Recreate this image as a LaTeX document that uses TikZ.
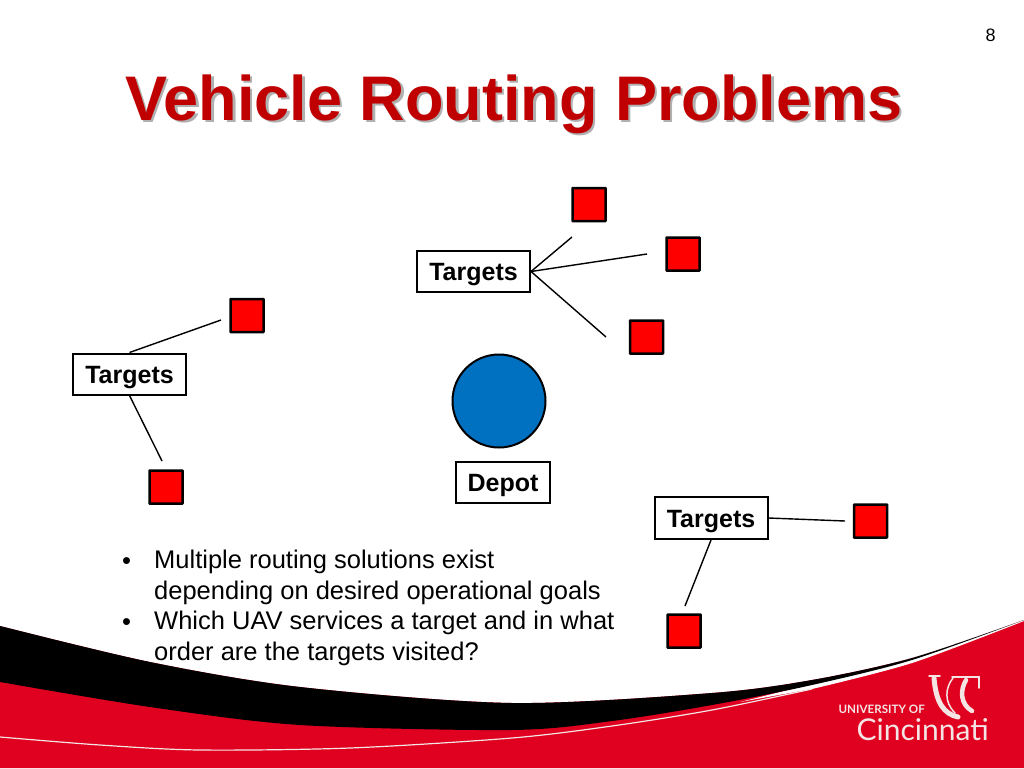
\documentclass[tikz,border=0pt]{standalone}
\usepackage{fontspec}
\setmainfont{Liberation Sans}
\newfontfamily\logofont{Lato}
\definecolor{titlered}{HTML}{C00000}
\definecolor{titleshade}{HTML}{B0B0B0}
\definecolor{bandred}{HTML}{E0001F}
\definecolor{depotblue}{HTML}{0070C0}
\definecolor{logowhite}{HTML}{F4E4E4}
\newcommand{\shadedtitle}[1]{\rlap{\hspace{2.5pt}\raisebox{-2.5pt}{\textcolor{titleshade}{#1}}}\textcolor{titlered}{#1}}
\tikzset{
    target/.style={draw=black, line width=2.5pt, fill=red, minimum size=33pt, inner sep=0pt, rounded corners=0.5pt},
    label box/.style={draw=black, line width=2pt, fill=white, inner sep=0pt, text height=18pt, text depth=0pt, font=\fontsize{25}{25}\selectfont\bfseries},
    link/.style={line width=1.4pt},
    bullet text/.style={anchor=north west, align=left, inner sep=0pt, font=\fontsize{25.5}{30.5}\selectfont},
    crest/.style={draw=logowhite, line cap=round},
}

\begin{document}
\begin{tikzpicture}[x=1pt, y=-1pt]
    \useasboundingbox (0, 0) rectangle (1024, 768);
    \fill[white] (0, 0) rectangle (1024, 768);

    % bottom band
    \fill[bandred] plot[smooth] coordinates {(0, 626) (150, 662) (300, 687) (512, 703) (712, 693) (812, 680) (912, 658) (1024, 620)} -- (1024, 768) -- (0, 768) -- cycle;
    \fill[white] (740, 702) -- plot[smooth] coordinates {(812, 684) (912, 658) (1024, 620)} -- plot[smooth] coordinates {(1024, 621) (912, 663) (812, 689)} -- cycle;
    \fill[black] plot[smooth] coordinates {(0, 626) (150, 662) (300, 687) (512, 703) (712, 693) (812, 680) (912, 658) (1024, 620)} -- plot[smooth] coordinates {(1024, 620) (912, 660) (812, 685) (712, 705) (612, 721) (512, 730) (300, 725) (150, 707) (0, 682)} -- cycle;
    \draw[logowhite, line width=1.2pt] plot[smooth] coordinates {(0, 737) (100, 745) (200, 750) (350, 748) (512, 738) (612, 726) (712, 710) (812, 689)};

    % logo
    \node[logowhite, inner sep=0pt, anchor=base east] (uni) at (925, 713) {\logofont\bfseries\fontsize{11.6}{11.6}\selectfont UNIVERSITY OF};
    \node[logowhite, inner sep=0pt, anchor=base east] (cin) at (989, 740) {\logofont\fontsize{30}{30}\selectfont Cincinnati};
    \draw[crest, line width=5pt] (934, 678) .. controls (936, 703) and (944, 714) .. (958, 717);
    \draw[crest, line width=1.5pt] (929, 676) -- (940, 676);
    \draw[crest, line width=1.5pt] (953, 678) .. controls (945, 688) and (944, 702) .. (955, 713);
    \draw[crest, line width=1.5pt] (952, 677) -- (979, 677) -- (979, 688);
    \draw[crest, line width=4.5pt] (966, 680) .. controls (960, 690) and (960, 704) .. (972, 711);

    % title and page number
    \node[inner sep=0pt, anchor=base west] (title) at (125, 120) {\fontsize{63}{63}\selectfont\bfseries\shadedtitle{Vehicle Routing Problems}};
    \node[inner sep=0pt] (page) at (990.5, 35) {\fontsize{18}{18}\selectfont 8};

    % depot
    \node[circle, draw=black, line width=2pt, fill=depotblue, minimum size=93pt, inner sep=0pt] (depot) at (499, 401) {};
    \node[label box, minimum width=94pt, minimum height=41pt] (depotbox) at (503, 482.5) {Depot};

    % targets
    \node[label box, minimum width=113pt, minimum height=41pt] (topbox) at (473.5, 271.5) {Targets};
    \node[label box, minimum width=113pt, minimum height=41pt] (leftbox) at (129.5, 374) {Targets};
    \node[label box, minimum width=113pt, minimum height=42pt] (rightbox) at (711, 518) {Targets};

    \node[target] (top a) at (589, 204.5) {};
    \node[target] (top b) at (683, 254) {};
    \node[target] (top c) at (646.5, 337) {};
    \node[target] (left a) at (247, 315.5) {};
    \node[target] (left b) at (166, 487) {};
    \node[target] (right a) at (870.5, 521) {};
    \node[target] (right b) at (684, 631) {};

    % free ends stop short of the squares
    \coordinate (end top a) at (572, 237);
    \coordinate (end top b) at (647, 254);
    \coordinate (end top c) at (606, 337);
    \coordinate (end left a) at (221, 320);
    \coordinate (end left b) at (162, 461);
    \coordinate (end right a) at (845, 521);
    \coordinate (end right b) at (685, 606);

    \draw[link] (topbox.east) -- (end top a);
    \draw[link] (topbox.east) -- (end top b);
    \draw[link] (topbox.east) -- (end top c);
    \draw[link] (leftbox.north) -- (end left a);
    \draw[link] (leftbox.south) -- (end left b);
    \draw[link] (rightbox.east) -- (end right a);
    \draw[link] (rightbox.south) -- (end right b);

    % bullets
    \node[bullet text] (first dot) at (122, 557) {•};
    \node[bullet text] (first) at (154, 550) {Multiple routing solutions exist\\depending on desired operational goals};
    \node[bullet text] (second dot) at (122, 618) {•};
    \node[bullet text] (second) at (154, 611) {Which UAV services a target and in what\\order are the targets visited?};
\end{tikzpicture}
\end{document}
